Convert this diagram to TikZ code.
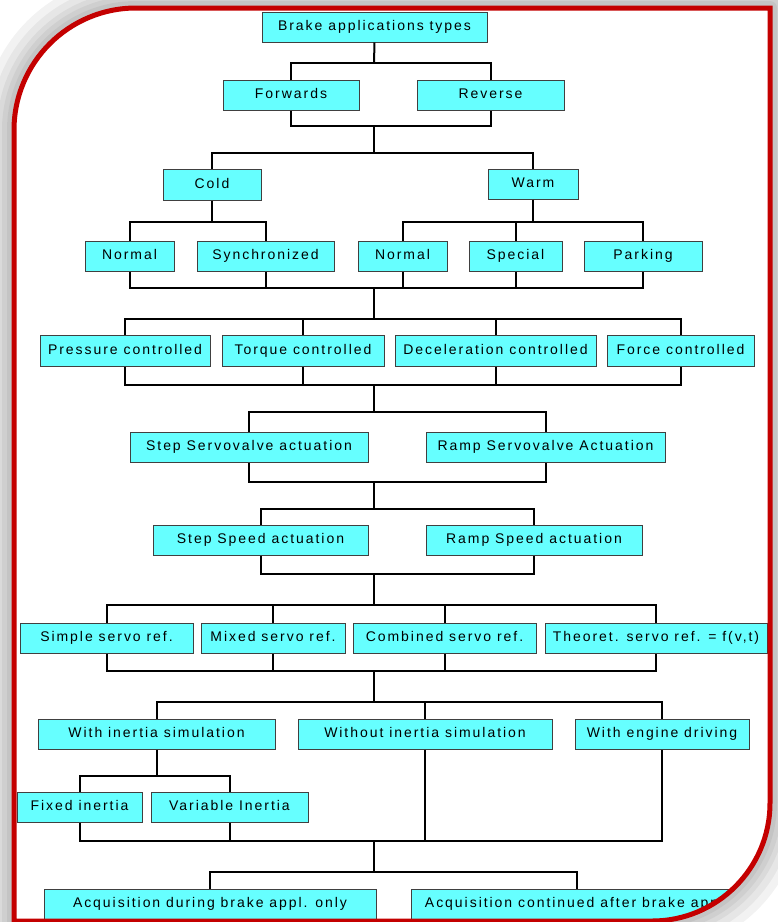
\documentclass[tikz,border=0pt]{standalone}
\usepackage{fontspec}
\newfontfamily\boxfont{Liberation Sans}[LetterSpace=14]
\definecolor{boxcyan}{RGB}{102,255,255}
\definecolor{framered}{RGB}{196,0,0}
\newcommand\bx[6]{\node[box, minimum width={#4-#2}, minimum height={#5-#3}] (#1) at ({(#2+#4)/2},{(#3+#5)/2}) {#6};}
\begin{document}
\begin{tikzpicture}[x=1pt,y=-1pt,
  box/.style={draw=black!75, line width=1pt, fill=boxcyan, inner sep=0pt,
    text height=10pt, text depth=3pt,
    font=\boxfont\fontsize{14}{16}\selectfont, text=black},
  conn/.style={draw=black, line width=2pt},
  glow/.style={draw=black, opacity=0.05, line join=round},
  frameline/.style={draw=framered, line width=5pt}]
\useasboundingbox (0,0) rectangle (778,922);
\def\framepath{(14,921) -- (14,130) arc[start angle=180,end angle=270,radius=122] -- (770,8) -- (770,803) arc[start angle=0,end angle=90,radius=118] -- cycle}
\foreach \w in {64,48,34,24,14} \draw[glow, line width=\w pt] \framepath;
\fill[white] \framepath;
\begin{scope}
\clip \framepath;
\bx{t}{262}{12}{487}{42}{Brake applications types}
\bx{fwd}{223}{80}{359}{110}{Forwards}
\bx{rev}{417}{80}{564}{110}{Reverse}
\bx{cold}{163}{169}{261}{200}{Cold}
\bx{warm}{488}{169}{578}{199}{Warm}
\bx{na}{85}{241}{174}{271}{Normal}
\bx{sync}{197}{241}{334}{271}{Synchronized}
\bx{nb}{358}{241}{447}{271}{Normal}
\bx{spec}{469}{241}{562}{271}{Special}
\bx{park}{584}{241}{702}{271}{Parking}
\bx{pres}{40}{335}{210}{366}{Pressure controlled}
\bx{torq}{222}{335}{384}{366}{Torque controlled}
\bx{dec}{395}{335}{596}{366}{Deceleration controlled}
\bx{force}{607}{335}{754}{366}{Force controlled}
\bx{ssv}{130}{432}{368}{462}{Step Servovalve actuation}
\bx{rsv}{426}{432}{665}{462}{Ramp Servovalve Actuation}
\bx{ssp}{153}{525}{368}{555}{Step Speed actuation}
\bx{rsp}{426}{525}{642}{555}{Ramp Speed actuation}
\bx{simp}{20}{623}{193}{653}{Simple servo ref.}
\bx{mix}{201}{623}{345}{653}{Mixed servo ref.}
\bx{comb}{353}{623}{536}{653}{Combined servo ref.}
\bx{theo}{545}{623}{767}{653}{Theoret. servo ref. = f(v,t)}
\bx{wi}{38}{719}{275}{749}{With inertia simulation}
\bx{wo}{298}{719}{552}{749}{Without inertia simulation}
\bx{eng}{575}{719}{749}{749}{With engine driving}
\bx{fix}{17}{792}{142}{822}{Fixed inertia}
\bx{var}{151}{792}{308}{822}{Variable Inertia}
\bx{acqa}{44}{889}{376}{919}{Acquisition during brake appl. only}
\bx{acqb}{411}{889}{743}{919}{Acquisition continued after brake appl.}
\coordinate (bA) at (374,63);
\coordinate (bB) at (374,126);
\coordinate (bC) at (374,153);
\coordinate (bD) at (212,222);
\coordinate (bE) at (533,222);
\coordinate (bF) at (374,288);
\coordinate (bG) at (374,319);
\coordinate (bH) at (374,385);
\coordinate (bI) at (374,412);
\coordinate (bJ) at (374,482);
\coordinate (bK) at (374,509);
\coordinate (bL) at (374,574);
\coordinate (bM) at (374,605);
\coordinate (bN) at (374,671);
\coordinate (bO) at (374,702);
\coordinate (bP) at (156.5,776);
\coordinate (bQ) at (374,841);
\coordinate (bR) at (374,872);
\draw[conn] (t.south) -- (bA);
\draw[conn] (fwd.north) |- (bA) -| (rev.north);
\draw[conn] (fwd.south) |- (bB) -| (rev.south);
\draw[conn] (bB) -- (bC);
\draw[conn] (cold.north) |- (bC) -| (warm.north);
\draw[conn] (cold.south) -- (bD);
\draw[conn] (na.north) |- (bD) -| (sync.north);
\draw[conn] (warm.south) -- (bE);
\draw[conn] (nb.north) |- (bE) -| (park.north);
\draw[conn] (spec.north) |- (bE);
\draw[conn] (na.south) |- (bF) -| (park.south);
\draw[conn] (sync.south) |- (bF);
\draw[conn] (nb.south) |- (bF);
\draw[conn] (spec.south) |- (bF);
\draw[conn] (bF) -- (bG);
\draw[conn] (pres.north) |- (bG) -| (force.north);
\draw[conn] (torq.north) |- (bG);
\draw[conn] (dec.north) |- (bG);
\draw[conn] (pres.south) |- (bH) -| (force.south);
\draw[conn] (torq.south) |- (bH);
\draw[conn] (dec.south) |- (bH);
\draw[conn] (bH) -- (bI);
\draw[conn] (ssv.north) |- (bI) -| (rsv.north);
\draw[conn] (ssv.south) |- (bJ) -| (rsv.south);
\draw[conn] (bJ) -- (bK);
\draw[conn] (ssp.north) |- (bK) -| (rsp.north);
\draw[conn] (ssp.south) |- (bL) -| (rsp.south);
\draw[conn] (bL) -- (bM);
\draw[conn] (simp.north) |- (bM) -| (theo.north);
\draw[conn] (mix.north) |- (bM);
\draw[conn] (comb.north) |- (bM);
\draw[conn] (simp.south) |- (bN) -| (theo.south);
\draw[conn] (mix.south) |- (bN);
\draw[conn] (comb.south) |- (bN);
\draw[conn] (bN) -- (bO);
\draw[conn] (wi.north) |- (bO) -| (eng.north);
\draw[conn] (wo.north) |- (bO);
\draw[conn] (wi.south) -- (bP);
\draw[conn] (fix.north) |- (bP) -| (var.north);
\draw[conn] (fix.south) |- (bQ) -| (eng.south);
\draw[conn] (var.south) |- (bQ);
\draw[conn] (wo.south) |- (bQ);
\draw[conn] (bQ) -- (bR);
\draw[conn] (acqa.north) |- (bR) -| (acqb.north);
\end{scope}
\draw[frameline] \framepath;
\end{tikzpicture}
\end{document}
